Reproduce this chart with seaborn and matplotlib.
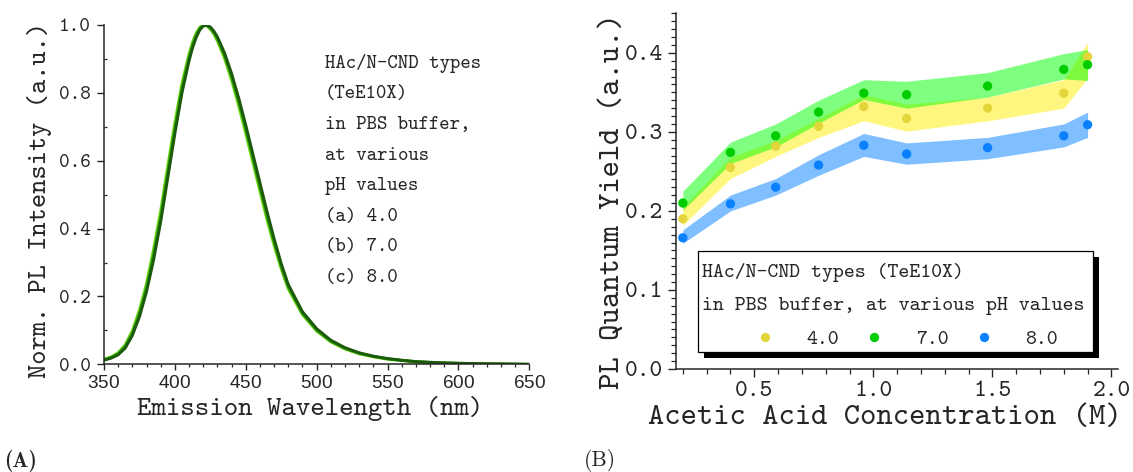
import numpy as np
import pandas as pd
import matplotlib
matplotlib.use("Agg")
import matplotlib.pyplot as plt
from matplotlib.patches import Rectangle
from matplotlib.lines import Line2D
from matplotlib.ticker import MultipleLocator, FormatStrFormatter
import seaborn as sns

sns.set_style("ticks")
plt.rcParams["font.family"] = ["cmtt10", "DejaVu Sans"]
plt.rcParams["axes.formatter.use_mathtext"] = True

# ---------------- (A) normalised PL emission spectra ----------------
wavelength = [350, 355, 360, 365, 370, 375, 380, 385, 390, 395, 400, 405, 410,
              412.5, 415, 417.5, 420, 422.5, 425, 427.5, 430, 435, 440, 445,
              450, 455, 460, 465, 470, 475, 480, 490, 500, 510, 520, 530, 540,
              550, 560, 570, 580, 590, 600, 620, 650]
intensity_ph40 = [0.015, 0.022, 0.034, 0.058, 0.099, 0.160, 0.238, 0.340, 0.453,
                  0.585, 0.713, 0.828, 0.915, 0.950, 0.976, 0.993, 1.000, 0.997,
                  0.988, 0.973, 0.953, 0.902, 0.837, 0.762, 0.680, 0.595, 0.510,
                  0.425, 0.350, 0.281, 0.222, 0.146, 0.098, 0.066, 0.045, 0.031,
                  0.022, 0.015, 0.011, 0.007, 0.005, 0.0035, 0.0025, 0.001, 0.0]
intensity_ph70 = [0.0135, 0.020, 0.031, 0.053, 0.092, 0.150, 0.226, 0.324, 0.436,
                  0.567, 0.696, 0.814, 0.905, 0.942, 0.970, 0.990, 0.999, 0.999,
                  0.991, 0.978, 0.959, 0.910, 0.847, 0.774, 0.693, 0.608, 0.523,
                  0.438, 0.360, 0.289, 0.228, 0.150, 0.101, 0.068, 0.047, 0.032,
                  0.023, 0.016, 0.0115, 0.0075, 0.0055, 0.004, 0.003, 0.0012, 0.0]
intensity_ph80 = [0.012, 0.018, 0.028, 0.048, 0.085, 0.140, 0.214, 0.308, 0.420,
                  0.550, 0.680, 0.800, 0.895, 0.933, 0.963, 0.985, 0.997, 1.000,
                  0.994, 0.982, 0.965, 0.918, 0.857, 0.785, 0.705, 0.620, 0.535,
                  0.450, 0.370, 0.297, 0.235, 0.155, 0.105, 0.071, 0.049, 0.034,
                  0.024, 0.017, 0.012, 0.008, 0.006, 0.004, 0.003, 0.0015, 0.0]
spectrum_names = ["(a) 4.0", "(b) 7.0", "(c) 8.0"]
spectrum_colors = ["#6fdc10", "#2f9e0c", "#1b5a0a"]
legend_a_lines = ["HAc/N-CND types", "(TeE10X)", "in PBS buffer,", "at various",
                  "pH values", "(a) 4.0", "(b) 7.0", "(c) 8.0"]

# ---------------- (B) PL quantum yield vs acetic acid ----------------
acid_conc = [0.20, 0.40, 0.59, 0.77, 0.96, 1.14, 1.48, 1.80, 1.90]
qy_ph40 = [0.190, 0.255, 0.282, 0.307, 0.332, 0.317, 0.330, 0.349, 0.395]
qy_ph70 = [0.210, 0.274, 0.295, 0.325, 0.349, 0.347, 0.358, 0.379, 0.385]
qy_ph80 = [0.166, 0.209, 0.230, 0.258, 0.283, 0.272, 0.280, 0.295, 0.309]
band40_low = [0.182, 0.241, 0.269, 0.293, 0.314, 0.301, 0.314, 0.330, 0.368]
band40_high = [0.205, 0.268, 0.289, 0.317, 0.347, 0.335, 0.344, 0.366, 0.413]
band70_low = [0.201, 0.260, 0.281, 0.311, 0.341, 0.330, 0.344, 0.367, 0.365]
band70_high = [0.225, 0.287, 0.310, 0.340, 0.366, 0.364, 0.375, 0.399, 0.404]
band80_low = [0.159, 0.200, 0.220, 0.245, 0.269, 0.259, 0.266, 0.281, 0.293]
band80_high = [0.176, 0.220, 0.241, 0.271, 0.298, 0.286, 0.293, 0.310, 0.325]
ph_labels = ["4.0", "7.0", "8.0"]
dot_colors = ["#e3d63a", "#00cc00", "#0a80ff"]
band_colors = ["#ffee00", "#00ff00", "#0080ff"]
legend_b_lines = ["HAc/N-CND types (TeE10X)", "in PBS buffer, at various pH values"]

W, H = 1133, 472
fig = plt.figure(figsize=(W / 100, H / 100), dpi=100)

# ---------------- panel A ----------------
ax1 = fig.add_axes([104 / W, (H - 364.3) / H, 425.3 / W, 339.3 / H])
spec = pd.DataFrame({
    "wavelength": wavelength * 3,
    "intensity": intensity_ph40 + intensity_ph70 + intensity_ph80,
    "sample": sum([[n] * len(wavelength) for n in spectrum_names], []),
})
sns.lineplot(data=spec, x="wavelength", y="intensity", hue="sample",
             palette=dict(zip(spectrum_names, spectrum_colors)),
             estimator=None, sort=False, linewidth=2.1, legend=False, ax=ax1,
             solid_joinstyle="round")
ax1.set_xlim(350, 650)
ax1.set_ylim(0, 1.0)
ax1.xaxis.set_major_locator(MultipleLocator(50))
ax1.xaxis.set_minor_locator(MultipleLocator(10))
ax1.yaxis.set_major_locator(MultipleLocator(0.2))
ax1.yaxis.set_minor_locator(MultipleLocator(0.1))
ax1.yaxis.set_major_formatter(FormatStrFormatter("%.1f"))
ax1.tick_params(axis="x", which="major", direction="out", length=4, width=1,
                pad=4, labelsize=13.7)
ax1.tick_params(axis="x", which="minor", direction="out", length=2.5, width=0.9)
ax1.tick_params(axis="y", which="major", direction="out", length=5, width=1,
                pad=4.5, labelsize=14.5)
ax1.tick_params(axis="y", which="minor", direction="in", length=2.5, width=0.9)
for lab in ax1.get_xticklabels():
    lab.set_fontfamily("Liberation Sans")
for side in ("top", "right"):
    ax1.spines[side].set_visible(False)
for side in ("left", "bottom"):
    ax1.spines[side].set_linewidth(1.1)
ax1.set_xlabel("Emission Wavelength (nm)", fontsize=19.8)
ax1.set_ylabel("Norm. PL Intensity (a.u.)", fontsize=19.5)
ax1.xaxis.set_label_coords(0.485, -0.1288)
ax1.xaxis.label.set_va("center")
ax1.yaxis.set_label_coords(-0.1505, 0.484)
ax1.yaxis.label.set_va("center")
line_y = [0.887, 0.7966, 0.705, 0.615, 0.5254, 0.435, 0.3449, 0.2554]
for txt, yy in zip(legend_a_lines, line_y):
    ax1.text(0.5196, yy, txt, transform=ax1.transAxes, fontsize=14.3,
             ha="left", va="center")

# ---------------- panel B ----------------
ax2 = fig.add_axes([675.7 / W, (H - 369) / H, 442.6 / W, 355.7 / H])
for lo, hi, c in zip([band40_low, band70_low, band80_low],
                     [band40_high, band70_high, band80_high], band_colors):
    ax2.fill_between(acid_conc, lo, hi, color=c, alpha=0.5, linewidth=0)
qy = pd.DataFrame({
    "conc": acid_conc * 3,
    "qy": qy_ph40 + qy_ph70 + qy_ph80,
    "pH": sum([[p] * len(acid_conc) for p in ph_labels], []),
})
sns.scatterplot(data=qy, x="conc", y="qy", hue="pH",
                palette=dict(zip(ph_labels, dot_colors)), s=45,
                edgecolor="none", zorder=3, legend=False, ax=ax2)
ax2.set_xlim(0.17, 2.029)
ax2.set_ylim(0, 0.45)
ax2.xaxis.set_major_locator(MultipleLocator(0.5))
ax2.xaxis.set_minor_locator(MultipleLocator(0.1))
ax2.yaxis.set_major_locator(MultipleLocator(0.1))
ax2.yaxis.set_minor_locator(MultipleLocator(0.01))
ax2.yaxis.set_major_formatter(FormatStrFormatter("%.1f"))
ax2.xaxis.set_major_formatter(FormatStrFormatter("%.1f"))
ax2.tick_params(axis="both", which="major", direction="out", length=6, width=1,
                pad=3, labelsize=17.5)
ax2.tick_params(axis="both", which="minor", direction="out", length=3.5, width=0.9)
for side in ("top", "right"):
    ax2.spines[side].set_visible(False)
for side in ("left", "bottom"):
    ax2.spines[side].set_linewidth(1.1)
ax2.set_xlabel("Acetic Acid Concentration (M)", fontsize=22.4)
ax2.set_ylabel("PL Quantum Yield (a.u.)", fontsize=22.4)
ax2.xaxis.set_label_coords(0.473, -0.1378)
ax2.xaxis.label.set_va("center")
ax2.yaxis.set_label_coords(-0.1417, 0.471)
ax2.yaxis.label.set_va("center")

# legend frame with a solid drop shadow, header lines and pH entries
box_x, box_y, box_w, box_h = 0.051, 0.0486, 0.8925, 0.284
ax2.add_patch(Rectangle((box_x + 0.012, box_y - 0.0169), box_w, box_h,
                        transform=ax2.transAxes, facecolor="black",
                        edgecolor="none", zorder=4.8, clip_on=False))
ax2.add_patch(Rectangle((box_x, box_y), box_w, box_h, transform=ax2.transAxes,
                        facecolor="white", edgecolor="black", linewidth=0.9,
                        zorder=4.9, clip_on=False))
for txt, yy in zip(legend_b_lines, [0.270, 0.177]):
    ax2.text(0.0601, yy, txt, transform=ax2.transAxes, fontsize=15,
             ha="left", va="center", zorder=6)
handles = [Line2D([], [], marker="o", linestyle="none", color=c,
                  markeredgecolor="none", markersize=6.7) for c in dot_colors]
leg = ax2.legend(handles, ph_labels, ncol=3, loc="center left",
                 bbox_to_anchor=(0.1783, 0.083), borderaxespad=0,
                 fontsize=15, frameon=False, borderpad=0, handlelength=1.0,
                 handletextpad=1.5, columnspacing=1.18)
leg.set_zorder(6)

fig.text(4 / W, 1 - 461 / H, "(A)", fontfamily="cmb10", fontsize=15.5,
         ha="left", va="center")
fig.text(584 / W, 1 - 461 / H, "(B)", fontfamily="cmr10", fontsize=15.5,
         ha="left", va="center")

fig.savefig("out.png", dpi=100)
